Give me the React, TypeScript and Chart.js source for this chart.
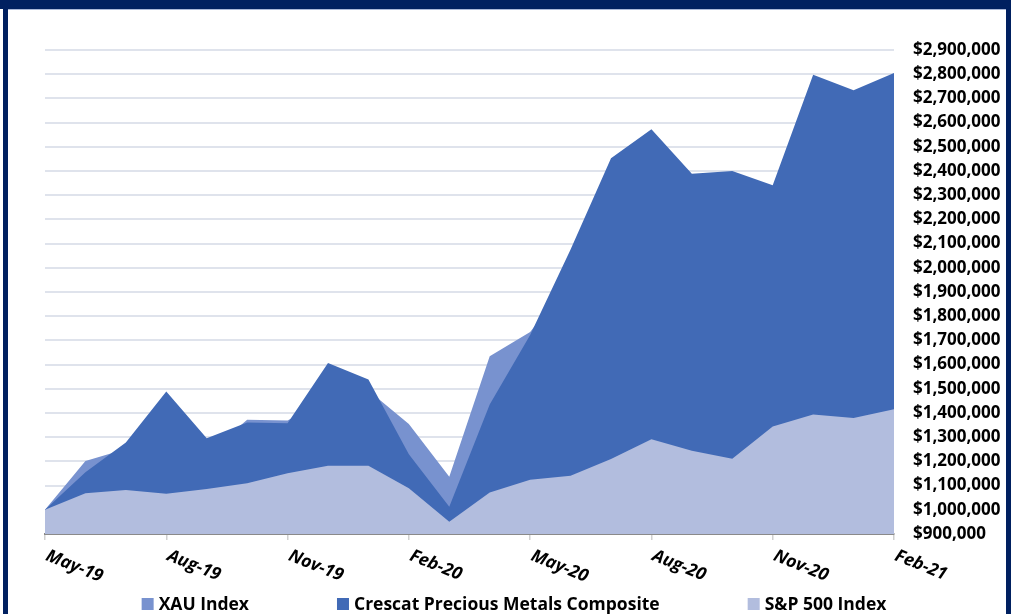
import React, { useEffect, useRef } from "react";
import { Chart, registerables } from "chart.js";

Chart.register(...registerables);

// ---- data ----
const months = [
  "May-19", "Jun-19", "Jul-19", "Aug-19", "Sep-19", "Oct-19", "Nov-19", "Dec-19",
  "Jan-20", "Feb-20", "Mar-20", "Apr-20", "May-20", "Jun-20", "Jul-20", "Aug-20",
  "Sep-20", "Oct-20", "Nov-20", "Dec-20", "Jan-21", "Feb-21",
];

const xauIndex = [
  1000000, 1202000, 1251000, 1290000, 1230000, 1372000, 1369000, 1460000,
  1493000, 1355000, 1137000, 1634000, 1735000, 1950000, 2250000, 2300000,
  2150000, 2100000, 1950000, 2050000, 1950000, 1850000,
];

const crescatComposite = [
  1000000, 1155000, 1278000, 1489000, 1296000, 1361000, 1358000, 1607000,
  1538000, 1230000, 1013000, 1435000, 1722000, 2076000, 2453000, 2573000,
  2389000, 2400000, 2341000, 2798000, 2734000, 2805000,
];

const sp500Index = [
  1000000, 1068000, 1082000, 1066000, 1086000, 1110000, 1151000, 1182000,
  1182000, 1089000, 951000, 1071000, 1124000, 1141000, 1210000, 1292000,
  1244000, 1211000, 1344000, 1394000, 1379000, 1416000,
];

const seriesNames = ["XAU Index", "Crescat Precious Metals Composite", "S&P 500 Index"];
const seriesColors = ["#7892CF", "#416AB6", "#B2BDDE"];

const yMin = 900000;
const yMax = 2900000;
const yStep = 100000;
const xLabelEvery = 3;

const FONT = "'Open Sans', 'DejaVu Sans', sans-serif";

const formatMoney = (v: number) => "$" + Math.round(v).toLocaleString("en-US");

const xLabelPlugin = {
  id: "rotatedXLabels",
  afterDraw(chart: any) {
    const { ctx, chartArea } = chart;
    const x = chart.scales.x;
    ctx.save();
    ctx.font = `italic bold 17.5px ${FONT}`;
    ctx.fillStyle = "#000";
    ctx.textAlign = "left";
    ctx.textBaseline = "top";
    months.forEach((m, i) => {
      if (i % xLabelEvery !== 0) return;
      const px = x.getPixelForValue(i);
      ctx.save();
      ctx.translate(px + 5, chartArea.bottom + 13);
      ctx.rotate((22 * Math.PI) / 180);
      ctx.fillText(m, 0, 0);
      ctx.restore();
    });
    ctx.restore();
  },
};

const legendPlugin = {
  id: "customLegend",
  afterDraw(chart: any) {
    const { ctx } = chart;
    ctx.save();
    ctx.font = `bold 17.5px ${FONT}`;
    const box = 12;
    const gapText = 5;
    const gapItem = 88;
    const widths = seriesNames.map((n) => box + gapText + ctx.measureText(n).width);
    const total = widths.reduce((a, b) => a + b, 0) + gapItem * (widths.length - 1);
    let x = 514 - total / 2;
    const yMid = 604;
    ctx.textBaseline = "middle";
    ctx.textAlign = "left";
    seriesNames.forEach((n, i) => {
      ctx.fillStyle = seriesColors[i];
      ctx.fillRect(x, yMid - box / 2, box, box);
      ctx.fillStyle = "#000";
      ctx.fillText(n, x + box + gapText, yMid + 1);
      x += widths[i] + gapItem;
    });
    ctx.restore();
  },
};

export default function App() {
  const canvasRef = useRef<HTMLCanvasElement | null>(null);

  useEffect(() => {
    if (!canvasRef.current) return;
    const chart = new Chart(canvasRef.current, {
      type: "line",
      data: {
        labels: months,
        datasets: [
          {
            label: seriesNames[2],
            data: sp500Index,
            backgroundColor: seriesColors[2],
            borderColor: "transparent",
            borderWidth: 0,
            fill: "start",
            pointRadius: 0,
            tension: 0,
          },
          {
            label: seriesNames[1],
            data: crescatComposite,
            backgroundColor: seriesColors[1],
            borderColor: "transparent",
            borderWidth: 0,
            fill: "start",
            pointRadius: 0,
            tension: 0,
          },
          {
            label: seriesNames[0],
            data: xauIndex,
            backgroundColor: seriesColors[0],
            borderColor: "transparent",
            borderWidth: 0,
            fill: "start",
            pointRadius: 0,
            tension: 0,
          },
        ],
      },
      options: {
        responsive: false,
        animation: false,
        events: [],
        layout: { padding: { left: 45, top: 50, right: 0, bottom: 74 } },
        plugins: {
          legend: { display: false },
          tooltip: { enabled: false },
          title: { display: false },
        },
        scales: {
          x: {
            type: "category",
            offset: false,
            ticks: { display: false, autoSkip: false },
            grid: {
              drawOnChartArea: false,
              drawTicks: true,
              tickLength: 6,
              lineWidth: 1.5,
              color: (c: any) => (c.index % xLabelEvery === 0 ? "#d0d0d0" : "transparent"),
            },
            border: { display: true, color: "#8a8a8a", width: 2 },
          },
          y: {
            position: "right",
            min: yMin,
            max: yMax,
            ticks: {
              stepSize: yStep,
              autoSkip: false,
              padding: 19,
              color: "#000",
              font: { family: FONT, size: 17, weight: "bold" },
              callback: (v: any) => formatMoney(Number(v)),
            },
            grid: {
              drawTicks: false,
              lineWidth: 2,
              color: (c: any) => (c.tick && c.tick.value === yMin ? "transparent" : "#dfe3ec"),
            },
            border: { display: false },
            afterFit: (s: any) => {
              s.width = 117;
            },
          },
        },
      },
      plugins: [xLabelPlugin, legendPlugin],
    } as any);
    return () => chart.destroy();
  }, []);

  return (
    <div
      style={{
        position: "absolute",
        left: 0,
        top: 0,
        width: 1011,
        height: 614,
        background: "#ffffff",
        overflow: "hidden",
      }}
    >
      <canvas
        ref={canvasRef}
        width={1011}
        height={614}
        style={{ position: "absolute", left: 0, top: 0, width: 1011, height: 614, display: "block" }}
      />
      <div style={{ position: "absolute", left: 0, top: 0, width: 1011, height: 9, background: "#002060" }} />
      <div style={{ position: "absolute", left: 8, top: 9, width: 998, height: 1, background: "#a9b7d8" }} />
      <div style={{ position: "absolute", left: 3, top: 0, width: 5, height: 614, background: "#002060" }} />
      <div style={{ position: "absolute", left: 1006, top: 0, width: 5, height: 614, background: "#002060" }} />
    </div>
  );
}
